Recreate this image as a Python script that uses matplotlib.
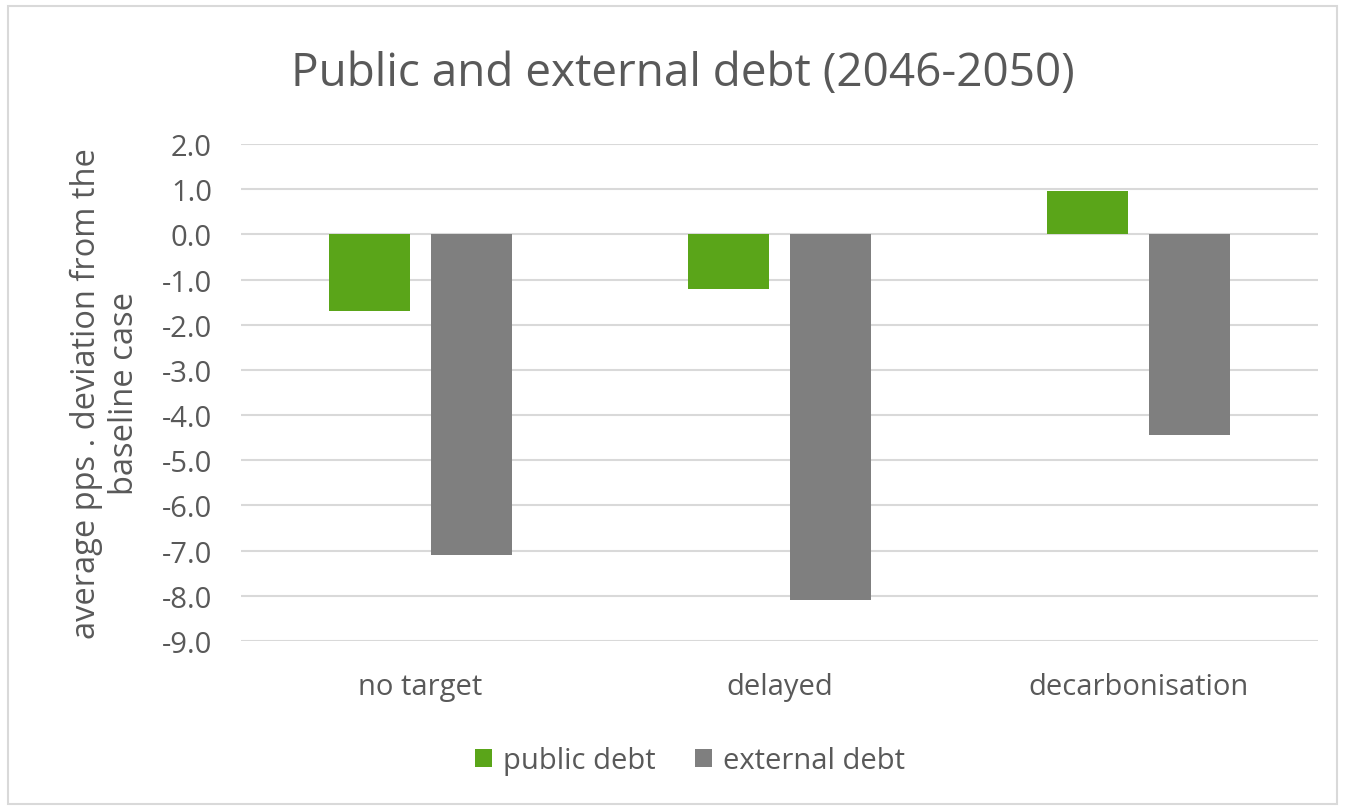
import matplotlib
matplotlib.use("Agg")
import matplotlib.pyplot as plt
import numpy as np
from matplotlib.patches import Rectangle

# scenario results: average pps deviation from baseline, 2046-2050
scenarios = ["no target", "delayed", "decarbonisation"]
public_debt = [-1.7, -1.2, 0.95]
external_debt = [-7.1, -8.1, -4.45]
yticks = [2.0, 1.0, 0.0, -1.0, -2.0, -3.0, -4.0, -5.0, -6.0, -7.0, -8.0, -9.0]

GREEN = "#5aa519"
GREY = "#7f7f7f"
TEXT = "#595959"

plt.rcParams["font.family"] = ["Open Sans", "DejaVu Sans"]

fig = plt.figure(figsize=(13.45, 8.12), dpi=100)
fig.patches.append(Rectangle((8 / 1345, 7 / 812), 1 - 16 / 1345, 1 - 14 / 812,
                             transform=fig.transFigure, fill=False,
                             edgecolor="#d9d9d9", linewidth=1.5))

ax = fig.add_axes([241 / 1345, 1 - 642 / 812, 1077 / 1345, 497 / 812])
x = np.arange(len(scenarios))
w = 0.225
ax.bar(x - 0.142, public_debt, w, color=GREEN, label="public debt", zorder=3)
ax.bar(x + 0.142, external_debt, w, color=GREY, label="external debt", zorder=3)

ax.set_xlim(-0.5, len(scenarios) - 0.5)
ax.set_ylim(-9, 2)
ax.set_yticks(yticks)
ax.set_yticklabels([f"{t:.1f}" for t in yticks])
ax.yaxis.grid(True, color="#d9d9d9", linewidth=1.5, zorder=0)
for s in ax.spines.values():
    s.set_visible(False)
ax.tick_params(length=0, colors=TEXT, labelsize=21)
ax.tick_params(axis="y", pad=21)
ax.set_xticks(x)
ax.set_xticklabels(scenarios)
ax.tick_params(axis="x", pad=22)

ax.set_ylabel("average pps . deviation from the\nbaseline case", color=TEXT,
              fontsize=23.5, labelpad=15, linespacing=1.17)
fig.suptitle("Public and external debt (2046-2050)", x=0.508, y=0.937,
             fontsize=33, color=TEXT)

ax.legend(loc="center", bbox_to_anchor=(0.513, 1 - 762 / 812),
          bbox_transform=fig.transFigure, ncol=2, frameon=False, fontsize=21,
          labelcolor=TEXT, handlelength=0.58, handleheight=0.58,
          handletextpad=0.38, columnspacing=1.35)

fig.savefig("out.png", dpi=100)
